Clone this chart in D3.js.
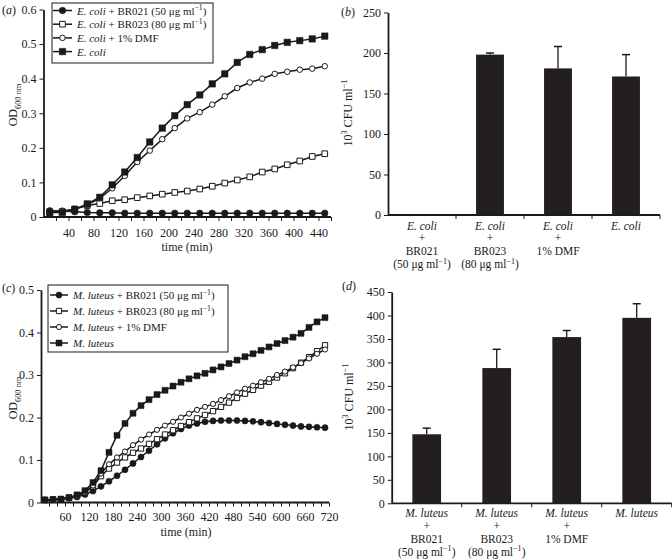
<!DOCTYPE html>
<html><head><meta charset="utf-8">
<script src="https://cdn.jsdelivr.net/npm/d3@7"></script>
<style>
body{margin:0;background:#fff}
svg{display:block}
text{font-family:"Liberation Serif","Times New Roman",serif;fill:#1a1a1a}
</style>
</head><body>
<svg id="chart" width="672" height="560"></svg>
<script>
// ---------------- DATA ----------------
// Panel (a): E. coli growth curves (OD600)
const timeA = [10,30,50,70,90,110,130,150,170,190,210,230,250,270,290,310,330,350,370,390,410,430,450];
const ecoliBR021 = [0.018,0.017,0.015,0.013,0.012,0.012,0.011,0.011,0.011,0.011,0.011,0.011,0.011,0.011,0.011,0.011,0.011,0.011,0.011,0.011,0.011,0.011,0.011];
const ecoliBR023 = [0.013,0.015,0.023,0.033,0.039,0.047,0.050,0.056,0.061,0.066,0.071,0.075,0.081,0.089,0.098,0.107,0.116,0.130,0.139,0.151,0.162,0.175,0.183];
const ecoliDMF   = [0.013,0.017,0.023,0.035,0.054,0.083,0.119,0.159,0.192,0.225,0.257,0.285,0.303,0.325,0.349,0.373,0.389,0.400,0.414,0.420,0.426,0.429,0.436];
const ecoliCtrl  = [0.013,0.013,0.022,0.038,0.057,0.093,0.130,0.172,0.217,0.257,0.293,0.325,0.353,0.385,0.414,0.447,0.470,0.484,0.496,0.505,0.510,0.515,0.523];
const xTickLabelsA = [40,80,120,160,200,240,280,320,360,400,440];
const yTicksA = [0,0.1,0.2,0.3,0.4,0.5,0.6];
const legendA = ["*E. coli* + BR021 (50 μg ml^{−1})","*E. coli* + BR023 (80 μg ml^{−1})","*E. coli* + 1% DMF","*E. coli*"];

// Panel (c): M. luteus growth curves (OD600)
const timeC = [10,30,50,70,90,110,130,150,170,190,210,230,250,270,290,310,330,350,370,390,410,430,450,470,490,510,530,550,570,590,610,630,650,670,690,710];
const mlBR021 = [0.006,0.006,0.007,0.010,0.013,0.019,0.027,0.038,0.050,0.063,0.077,0.092,0.107,0.122,0.137,0.151,0.163,0.173,0.181,0.186,0.190,0.192,0.193,0.193,0.193,0.192,0.191,0.189,0.187,0.185,0.183,0.181,0.179,0.178,0.177,0.176];
const mlBR023 = [0.006,0.007,0.008,0.011,0.016,0.024,0.038,0.062,0.080,0.094,0.106,0.117,0.127,0.138,0.149,0.160,0.170,0.180,0.189,0.198,0.206,0.215,0.225,0.235,0.246,0.256,0.265,0.275,0.284,0.294,0.304,0.316,0.329,0.342,0.356,0.370];
const mlDMF   = [0.006,0.007,0.008,0.011,0.016,0.025,0.040,0.068,0.090,0.106,0.120,0.135,0.148,0.160,0.171,0.181,0.190,0.200,0.209,0.218,0.225,0.232,0.241,0.250,0.259,0.268,0.275,0.283,0.291,0.300,0.308,0.318,0.328,0.339,0.350,0.360];
const mlCtrl  = [0.006,0.007,0.008,0.012,0.018,0.028,0.047,0.075,0.118,0.158,0.186,0.210,0.228,0.242,0.254,0.264,0.274,0.283,0.291,0.298,0.304,0.312,0.319,0.327,0.335,0.343,0.350,0.358,0.366,0.374,0.381,0.389,0.398,0.412,0.425,0.435];
const xTickLabelsC = [60,120,180,240,300,360,420,480,540,600,660,720];
const yTicksC = [0,0.1,0.2,0.3,0.4,0.5];
const legendC = ["*M. luteus* + BR021 (50 μg ml^{−1})","*M. luteus* + BR023 (80 μg ml^{−1})","*M. luteus* + 1% DMF","*M. luteus*"];

// Panel (b): E. coli CFU
const catsB = ["ecBR021","ecBR023","ecDMF","ec"];
const catLabelsB = [["*E. coli*","+","BR021","(50 μg ml^{−1})"],["*E. coli*","+","BR023","(80 μg ml^{−1})"],["*E. coli*","+","1% DMF"],["*E. coli*"]];
const valuesB = [0,198,181,171];
const errorsB = [0,2,27,27];
const yTicksB = [0,50,100,150,200,250];

// Panel (d): M. luteus CFU
const catsD = ["mlBR021","mlBR023","mlDMF","ml"];
const catLabelsD = [["*M. luteus*","+","BR021","(50 μg ml^{−1})"],["*M. luteus*","+","BR023","(80 μg ml^{−1})"],["*M. luteus*","+","1% DMF"],["*M. luteus*"]];
const valuesD = [147,288,354,395];
const errorsD = [13,40,14,30];
const yTicksD = [0,50,100,150,200,250,300,350,400,450];

// ---------------- DRAWING ----------------
const svg = d3.select("#chart");
const INK = "#1a1a1a";

function rich(t, str, fs) {
  const re = /(\*[^*]+\*|\^\{[^}]+\}|_\{[^}]+\})/;
  let cur = 0;
  str.split(re).filter(s => s && s.length).forEach(tok => {
    let txt = tok, shift = 0, size = null, italic = false;
    if (tok[0] === '*') { txt = tok.slice(1, -1); italic = true; }
    else if (tok.startsWith('^{')) { txt = tok.slice(2, -1); shift = -0.38 * fs; size = 0.7 * fs; }
    else if (tok.startsWith('_{')) { txt = tok.slice(2, -1); shift = 0.3 * fs; size = 0.7 * fs; }
    const ts = t.append('tspan').text(txt);
    if (shift !== cur) { ts.attr('dy', shift - cur); cur = shift; }
    if (size) ts.attr('font-size', size);
    if (italic) ts.attr('font-style', 'italic');
  });
  return t;
}

function label(x, y, str, fs, anchor, rotate) {
  const t = svg.append('text').attr('font-size', fs).attr('text-anchor', anchor || 'start');
  if (rotate) t.attr('transform', `translate(${x},${y}) rotate(${rotate})`);
  else t.attr('x', x).attr('y', y);
  return rich(t, str, fs);
}

function styleAxis(g, domainW) {
  g.select('.domain').attr('stroke', INK).attr('stroke-width', domainW || 1.8);
  g.selectAll('.tick line').attr('stroke', INK).attr('stroke-width', 1);
  g.selectAll('.tick text').attr('fill', INK).style('font-family', '"Liberation Serif","Times New Roman",serif');
}

function linePanel(o) {
  const { x, y, series, xTicks, xLabels, yTicks, legend, legendBox, ms, xPad } = o;
  const [y0, y1] = y.range();
  const [x0, x1] = x.range();
  const gy = svg.append('g').attr('transform', `translate(${x0},0)`)
    .call(d3.axisLeft(y).tickValues(yTicks).tickSize(4).tickPadding(3).tickSizeOuter(0)
      .tickFormat(d => d === 0 ? '0' : d.toFixed(1)))
    .attr('font-size', 12);
  styleAxis(gy);
  const gx = svg.append('g').attr('transform', `translate(0,${y0})`)
    .call(d3.axisBottom(x).tickValues(xTicks).tickSize(4).tickPadding(xPad).tickSizeOuter(0)
      .tickFormat(d => xLabels.includes(d) ? String(d) : ''))
    .attr('font-size', 12);
  gx.select('.domain').attr('d', `M${x0},0H${x1}`);
  styleAxis(gx);

  const line = d3.line().x(d => x(d[0])).y(d => y(d[1]));
  series.forEach(s => {
    const pts = s.t.map((t, i) => [t, s.v[i]]);
    svg.append('path').attr('d', line(pts)).attr('fill', 'none').attr('stroke', INK).attr('stroke-width', 1.5);
    const sym = d3.symbol().type(s.shape === 'square' ? d3.symbolSquare : d3.symbolCircle)
      .size(s.open ? ms[s.shape + 'Open'] : ms[s.shape]);
    svg.append('g').selectAll('path').data(pts).join('path')
      .attr('transform', d => `translate(${x(d[0])},${y(d[1])})`)
      .attr('d', sym())
      .attr('fill', s.open ? '#fff' : INK)
      .attr('stroke', INK).attr('stroke-width', s.open ? 1 : 0.5);
  });

  const L = legendBox;
  svg.append('rect').attr('x', L.x).attr('y', L.y).attr('width', L.w).attr('height', L.h)
    .attr('fill', '#fff').attr('stroke', INK).attr('stroke-width', 1);
  series.forEach((s, i) => {
    const cy = L.y0 + i * L.dy;
    svg.append('line').attr('x1', L.lx0).attr('x2', L.lx1).attr('y1', cy).attr('y2', cy)
      .attr('stroke', INK).attr('stroke-width', 1.5);
    const sym = d3.symbol().type(s.shape === 'square' ? d3.symbolSquare : d3.symbolCircle)
      .size(s.open ? ms[s.shape + 'Open'] : ms[s.shape]);
    svg.append('path').attr('d', sym()).attr('transform', `translate(${(L.lx0 + L.lx1) / 2},${cy})`)
      .attr('fill', s.open ? '#fff' : INK).attr('stroke', INK).attr('stroke-width', s.open ? 1 : 0.5);
    label(L.tx, cy + 4, legend[i], 11, 'start');
  });
}

function barPanel(o) {
  const { cats, labels, values, errors, yTicks, x, y, lineBase, lineGap, labelSize } = o;
  const [y0] = y.range();
  const [x0, x1] = x.range();
  const gy = svg.append('g').attr('transform', `translate(${x0},0)`)
    .call(d3.axisLeft(y).tickValues(yTicks).tickSize(4).tickPadding(3).tickSizeOuter(0))
    .attr('font-size', 12);
  styleAxis(gy);
  const gx = svg.append('g').attr('transform', `translate(0,${y0})`);
  gx.append('path').attr('d', `M${x0},0H${x1}`).attr('stroke', INK).attr('stroke-width', 1.8);
  gx.selectAll('line').data(cats).join('line')
    .attr('x1', d => x(d) + x.bandwidth()).attr('x2', d => x(d) + x.bandwidth())
    .attr('y1', 0).attr('y2', 4).attr('stroke', INK).attr('stroke-width', 1);

  const bw = x.bandwidth() * 0.41;
  const cx = d => x(d) + x.bandwidth() / 2;
  svg.append('g').selectAll('rect').data(cats).join('rect')
    .attr('x', d => cx(d) - bw / 2).attr('width', bw)
    .attr('y', (d, i) => y(values[i])).attr('height', (d, i) => y0 - y(values[i]))
    .attr('fill', '#231f20');
  cats.forEach((c, i) => {
    if (errors[i] > 0) {
      const yt = y(values[i] + errors[i]);
      svg.append('line').attr('x1', cx(c)).attr('x2', cx(c)).attr('y1', y(values[i])).attr('y2', yt)
        .attr('stroke', INK).attr('stroke-width', 1.3);
      svg.append('line').attr('x1', cx(c) - 4).attr('x2', cx(c) + 4).attr('y1', yt).attr('y2', yt)
        .attr('stroke', INK).attr('stroke-width', 1.5);
    }
    labels[i].forEach((ln, k) => label(cx(c), lineBase + k * lineGap, ln, labelSize, 'middle'));
  });
}

// ---- Panel (a)
linePanel({
  x: d3.scaleLinear().domain([0, 460]).range([43.5, 331]),
  y: d3.scaleLinear().domain([0, 0.6]).range([217, 9.5]),
  series: [
    { t: timeA, v: ecoliBR021, shape: 'circle', open: false },
    { t: timeA, v: ecoliBR023, shape: 'square', open: true },
    { t: timeA, v: ecoliDMF, shape: 'circle', open: true },
    { t: timeA, v: ecoliCtrl, shape: 'square', open: false }
  ],
  xTicks: d3.range(20, 461, 20), xLabels: xTickLabelsA, yTicks: yTicksA, legend: legendA, xPad: 7,
  ms: { square: 42, squareOpen: 32, circle: 34, circleOpen: 24 },
  legendBox: { x: 52, y: 3, w: 161, h: 60, y0: 10.5, dy: 13.7, lx0: 53, lx1: 72, tx: 77 }
});
label(2, 14, "(*a*)", 12, 'start');
label(17, 105, "OD_{600 nm}", 12, 'middle', -90);
label(187, 251, "time (min)", 12, 'middle');

// ---- Panel (c)
linePanel({
  x: d3.scaleLinear().domain([0, 720]).range([41, 329]),
  y: d3.scaleLinear().domain([0, 0.5]).range([502.5, 290]),
  series: [
    { t: timeC, v: mlBR021, shape: 'circle', open: false },
    { t: timeC, v: mlBR023, shape: 'square', open: true },
    { t: timeC, v: mlDMF, shape: 'circle', open: true },
    { t: timeC, v: mlCtrl, shape: 'square', open: false }
  ],
  xTicks: d3.range(20, 721, 20), xLabels: xTickLabelsC, yTicks: yTicksC, legend: legendC, xPad: 6,
  ms: { square: 36, squareOpen: 28, circle: 30, circleOpen: 21 },
  legendBox: { x: 48, y: 285, w: 180, h: 67, y0: 295, dy: 16, lx0: 50, lx1: 68, tx: 73 }
});
label(2, 292, "(*c*)", 12, 'start');
label(17, 398, "OD_{600 nm}", 12, 'middle', -90);
label(186, 536, "time (min)", 12, 'middle');

// ---- Panel (b)
barPanel({
  cats: catsB, labels: catLabelsB, values: valuesB, errors: errorsB, yTicks: yTicksB,
  x: d3.scaleBand().domain(catsB).range([388, 660]).padding(0),
  y: d3.scaleLinear().domain([0, 250]).range([215, 12.5]),
  lineBase: 229.5, lineGap: 12.9, labelSize: 11.5
});
label(341, 16, "(*b*)", 12, 'start');
label(352, 113, "10^{3} CFU ml^{−1}", 12, 'middle', -90);

// ---- Panel (d)
barPanel({
  cats: catsD, labels: catLabelsD, values: valuesD, errors: errorsD, yTicks: yTicksD,
  x: d3.scaleBand().domain(catsD).range([391.7, 671.7]).padding(0),
  y: d3.scaleLinear().domain([0, 450]).range([503.3, 292]),
  lineBase: 517, lineGap: 12.9, labelSize: 11.5
});
label(342, 290, "(*d*)", 12, 'start');
label(353, 397, "10^{3} CFU ml^{−1}", 12, 'middle', -90);
</script>
</body></html>
